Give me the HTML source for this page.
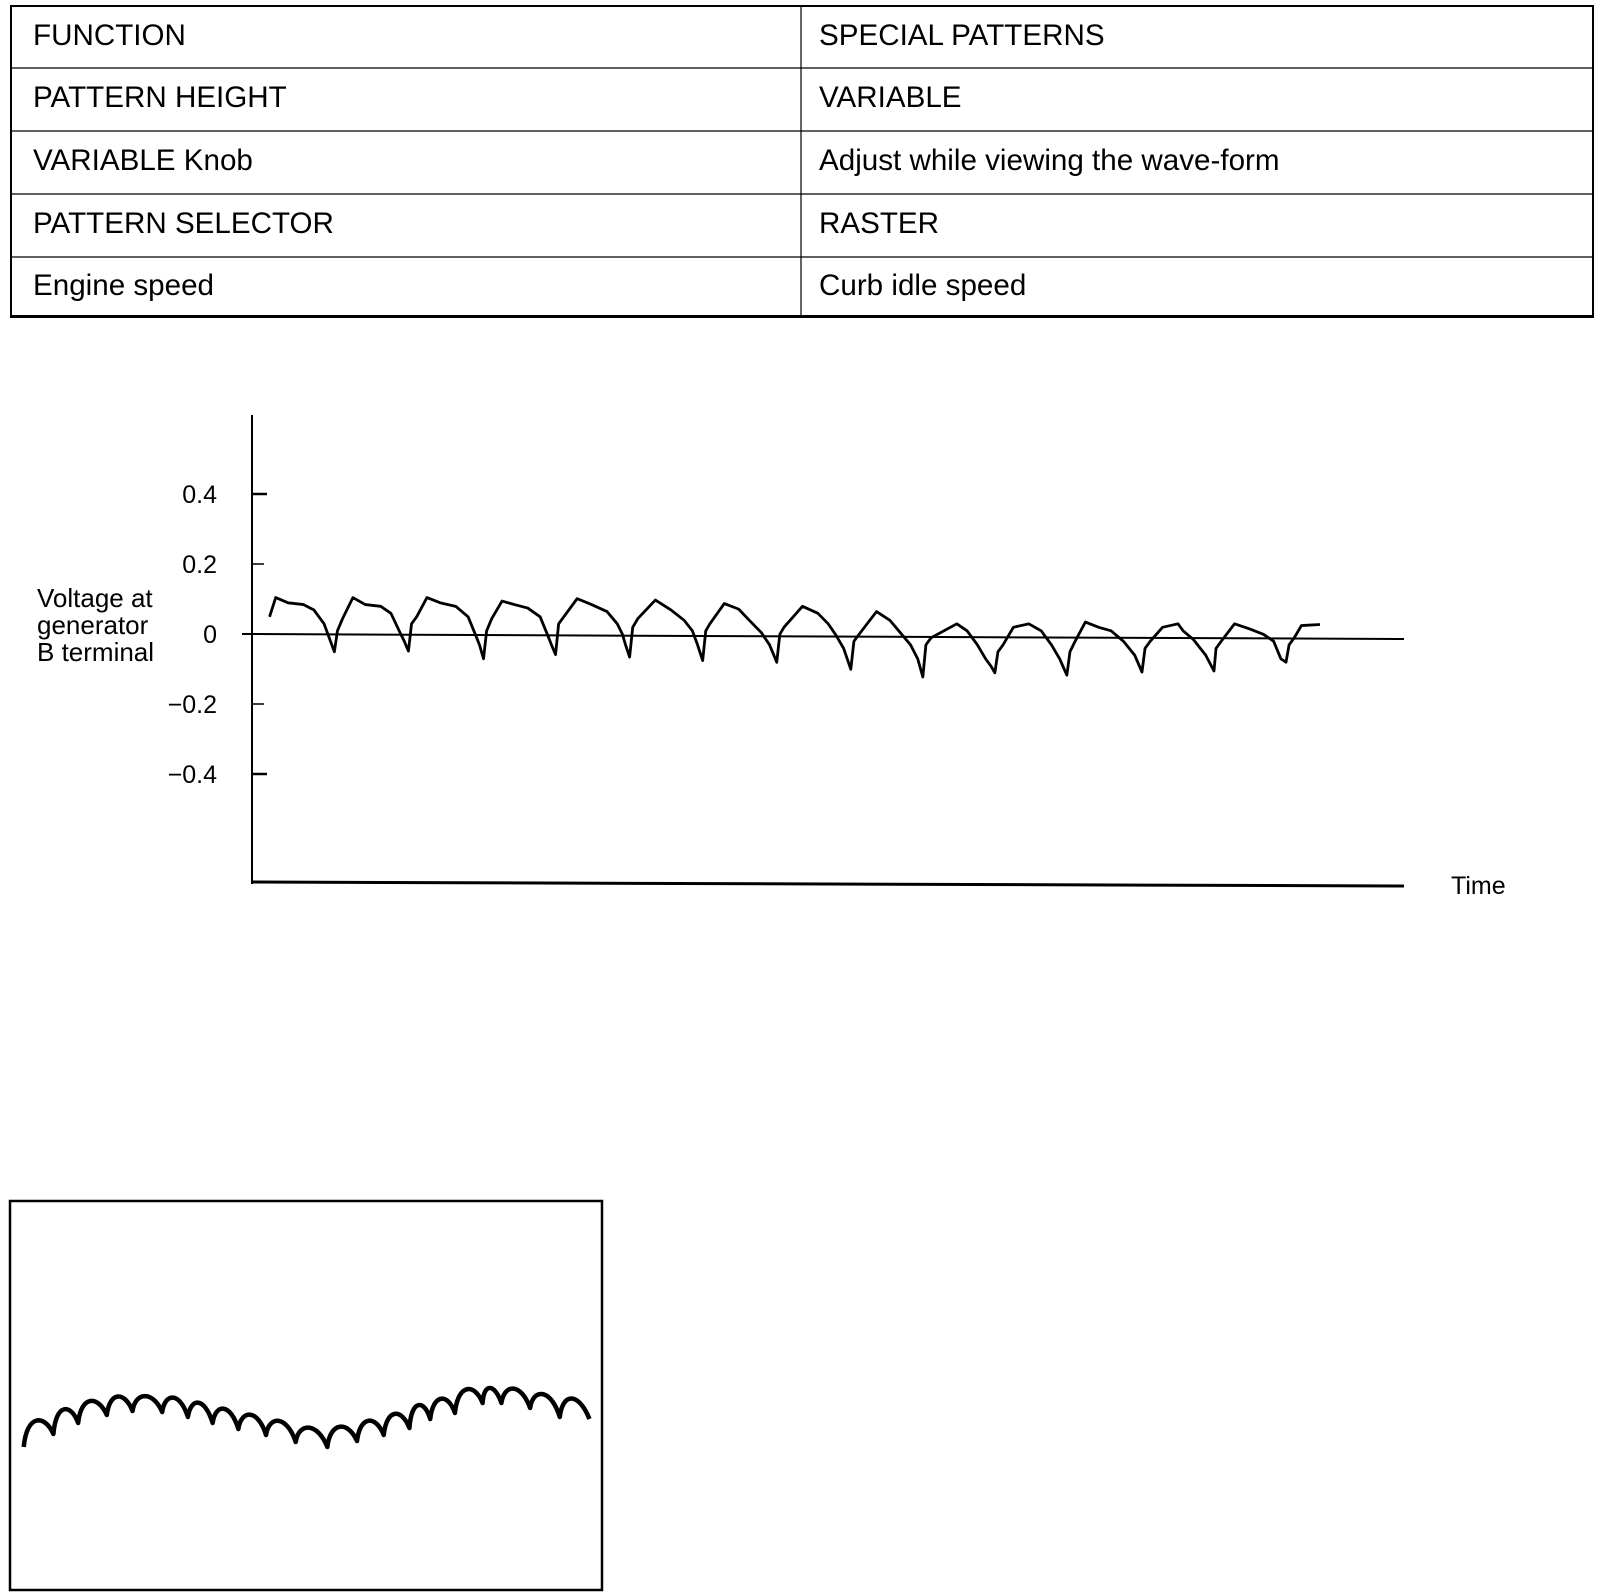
<!DOCTYPE html>
<html><head><meta charset="utf-8"><style>
html,body{margin:0;padding:0;background:#fff;}
svg{display:block;}
text{font-family:"Liberation Sans",Arial,sans-serif;fill:#000;}
</style></head><body>
<svg width="1616" height="1596" viewBox="0 0 1616 1596" xmlns="http://www.w3.org/2000/svg">
<!-- Table -->
<rect x="11" y="6" width="1582" height="311" fill="none" stroke="#000" stroke-width="2"/>
<line x1="11" y1="316.5" x2="1593" y2="316.5" stroke="#000" stroke-width="3"/>
<line x1="801" y1="6" x2="801" y2="317" stroke="#000" stroke-width="1.2"/>
<line x1="11" y1="68" x2="1593" y2="68" stroke="#000" stroke-width="1.2"/>
<line x1="11" y1="131" x2="1593" y2="131" stroke="#000" stroke-width="1.2"/>
<line x1="11" y1="194" x2="1593" y2="194" stroke="#000" stroke-width="1.2"/>
<line x1="11" y1="257" x2="1593" y2="257" stroke="#000" stroke-width="1.2"/>
<g font-size="29.6">
<text x="33" y="45">FUNCTION</text><text x="819" y="45">SPECIAL PATTERNS</text>
<text x="33" y="107">PATTERN HEIGHT</text><text x="819" y="107">VARIABLE</text>
<text x="33" y="170">VARIABLE Knob</text><text x="819" y="170">Adjust while viewing the wave-form</text>
<text x="33" y="233">PATTERN SELECTOR</text><text x="819" y="233">RASTER</text>
<text x="33" y="295">Engine speed</text><text x="819" y="295">Curb idle speed</text>
</g>
<!-- Chart axes -->
<line x1="252" y1="415" x2="252" y2="884" stroke="#000" stroke-width="2"/>
<line x1="251" y1="882" x2="1404" y2="886" stroke="#000" stroke-width="3"/>
<line x1="242" y1="634" x2="1404" y2="639" stroke="#000" stroke-width="2"/>
<line x1="252" y1="494" x2="267" y2="494" stroke="#000" stroke-width="2.5"/>
<line x1="252" y1="564" x2="264" y2="564" stroke="#000" stroke-width="1.5"/>
<line x1="252" y1="704" x2="264" y2="704" stroke="#000" stroke-width="1.5"/>
<line x1="252" y1="774" x2="267" y2="774" stroke="#000" stroke-width="2.5"/>
<g font-size="25" text-anchor="end">
<text x="217" y="503">0.4</text>
<text x="217" y="573">0.2</text>
<text x="217" y="643">0</text>
<text x="217" y="713">−0.2</text>
<text x="217" y="783">−0.4</text>
</g>
<g font-size="26">
<text x="37" y="607">Voltage at</text>
<text x="37" y="634">generator</text>
<text x="37" y="661">B terminal</text>
</g>
<text x="1451" y="894" font-size="25">Time</text>
<!-- waveform -->
<g transform="matrix(1.0288,0,0,0.3497,0,400)">
<path vector-effect="non-scaling-stroke" fill="none" stroke="#000" stroke-width="2.8" stroke-linejoin="round" d="M262,620 L268,565 L280,580 L295,585 L305,600 L315,640 L320,680 L325,720
L328,660 L333,625 L343,565 L355,585 L370,590 L380,610 L388,660 L393,690 L397,718
L400,640 L405,620 L415,565 L428,580 L443,590 L455,620 L462,670 L466,700 L470,740
L473,660 L478,625 L488,575 L500,585 L513,595 L525,620 L532,670 L536,700 L540,728
L543,640 L548,620 L561,568 L575,585 L590,605 L600,640 L605,670 L608,700 L612,735
L615,650 L620,625 L637,572 L652,600 L665,630 L673,660 L678,700 L683,745
L686,660 L690,640 L704,582 L718,598 L730,635 L740,665 L748,700 L755,750
L758,670 L762,650 L780,590 L795,610 L805,640 L812,670 L820,710 L827,770
L830,690 L835,670 L852,605 L865,630 L875,665 L885,700 L892,740 L897,792
L900,700 L905,680 L930,640 L940,660 L950,700 L958,740 L963,760 L967,780
L970,720 L975,700 L985,650 L1000,640 L1012,660 L1022,700 L1030,740 L1037,787
L1040,720 L1045,690 L1055,635 L1068,650 L1080,660 L1092,690 L1103,730 L1110,778
L1113,710 L1118,690 L1130,650 L1145,640 L1150,660 L1160,685 L1172,730 L1180,775
L1182,710 L1187,690 L1200,640 L1215,655 L1228,670 L1238,690 L1245,740 L1250,750
L1253,700 L1258,680 L1265,645 L1283,642"/>
</g>
<!-- bottom box -->
<rect x="10" y="1201" width="592" height="389" fill="none" stroke="#000" stroke-width="2.5"/>
<g transform="scale(0.989 1)">
<path vector-effect="non-scaling-stroke" fill="none" stroke="#000" stroke-width="4.5" stroke-linejoin="round" d="M24,1447 C27,1414 45,1414 54,1434 C56.5,1403 71.5,1403 79,1423 C82,1395 99,1395 108,1415 C111,1391 126,1391 134,1411 C137,1391 155,1391 164,1412 C167,1392 182,1392 190,1417 C193,1397 207,1397 215,1423 C218,1403 233,1403 241,1429 C244,1409 261,1409 269,1435 C272,1415 290,1415 299,1442 C302,1422 321,1422 331,1447 C334,1421 352,1421 361,1441 C364,1415 380,1415 388,1435 C391,1408 406,1408 414,1428 C416,1399 429,1399 435,1419 C438,1393 453,1393 460,1413 C463,1383 480,1383 488,1403 C489,1383 500,1383 507,1403 C510,1383 527,1383 536,1408 C539,1388 557,1388 566,1417 C569,1392 585,1392 596,1419"/>
</g>
</svg>
</body></html>
